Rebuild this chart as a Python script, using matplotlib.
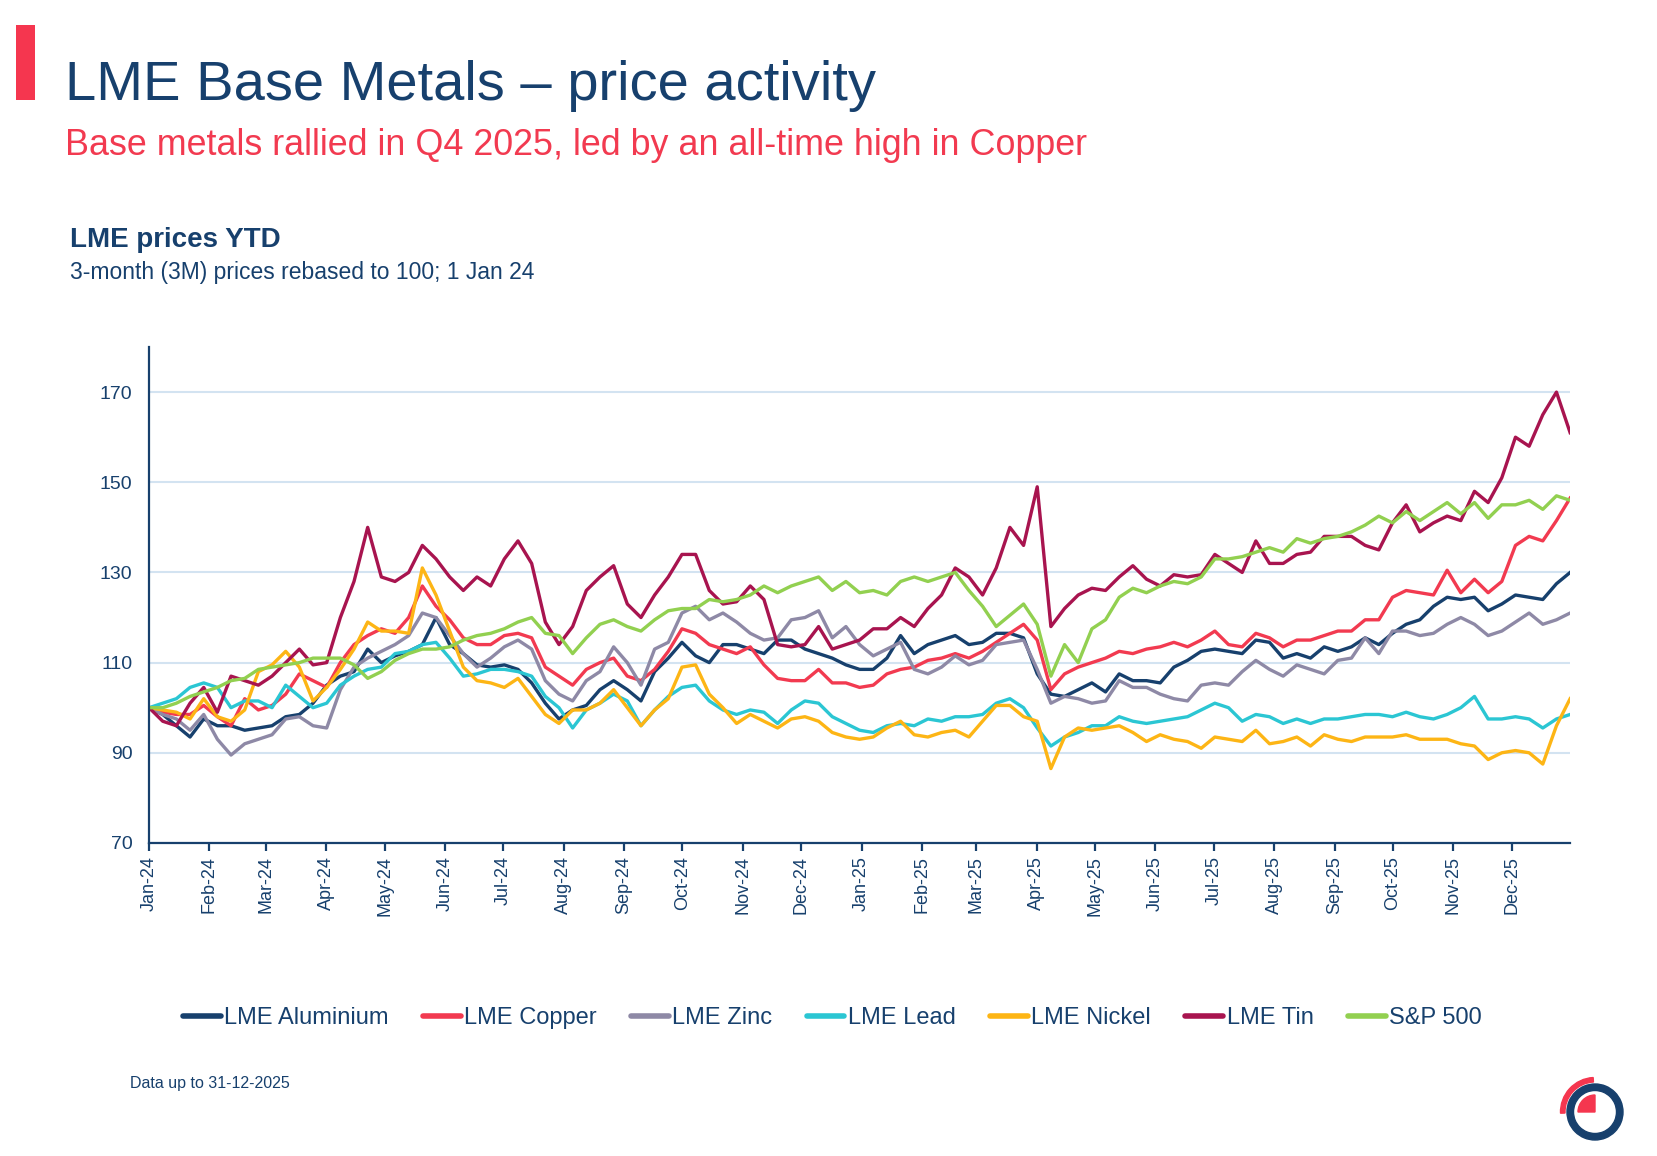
import pandas as pd
import matplotlib
matplotlib.use("Agg")
import matplotlib.pyplot as plt
import matplotlib.dates as mdates
from matplotlib.patches import Rectangle, Wedge

plt.rcParams['font.family'] = ['Liberation Sans', 'DejaVu Sans']

NAVY = '#17406D'
RED = '#F23A50'

# LME 3M prices rebased to 100 on 1 Jan 24, roughly weekly readings
aluminium = [100, 98.5, 96, 93.5, 97.5, 96, 96, 95, 95.5, 96, 98, 98.5, 101, 105, 107, 108, 113, 110,
             111.5, 112.5, 114, 120, 114, 112, 109.5, 109, 109.5, 108.5, 105.5, 101, 97.5, 99.5, 100.5, 104, 106, 104,
             101.5, 108, 111, 114.5, 111.5, 110, 114, 114, 113, 112, 115, 115, 113, 112, 111, 109.5, 108.5,
             108.5, 111, 116, 112, 114, 115, 116, 114, 114.5, 116.5, 116.5, 115.5, 107.5, 103, 102.5, 104, 105.5, 103.5,
             107.5, 106, 106, 105.5, 109, 110.5, 112.5, 113, 112.5, 112, 115, 114.5, 111, 112, 111, 113.5, 112.5,
             113.5, 115.5, 114, 116.5, 118.5, 119.5, 122.5, 124.5, 124, 124.5, 121.5, 123, 125, 124.5, 124, 127.5, 130]
copper = [100, 99, 98.5, 98.5, 100.5, 98, 96, 102, 99.5, 100.5, 103, 107.5, 106, 104.5, 110, 114, 116, 117.5,
          116.5, 120, 127, 122.5, 119.5, 115.5, 114, 114, 116, 116.5, 115.5, 109, 107, 105, 108.5, 110, 111, 107,
          106, 108.5, 112.5, 117.5, 116.5, 114, 113, 112, 113.5, 109.5, 106.5, 106, 106, 108.5, 105.5, 105.5, 104.5,
          105, 107.5, 108.5, 109, 110.5, 111, 112, 111, 112.5, 114.5, 116.5, 118.5, 115, 104, 107.5, 109, 110, 111,
          112.5, 112, 113, 113.5, 114.5, 113.5, 115, 117, 114, 113.5, 116.5, 115.5, 113.5, 115, 115, 116, 117,
          117, 119.5, 119.5, 124.5, 126, 125.5, 125, 130.5, 125.5, 128.5, 125.5, 128, 136, 138, 137, 141.5, 146.5]
zinc = [100, 98.5, 97.5, 95, 98.5, 93, 89.5, 92, 93, 94, 97.5, 98, 96, 95.5, 104, 109, 111, 112.5,
        114, 116, 121, 120, 116, 112, 109, 111, 113.5, 115, 113, 106, 103, 101.5, 106, 108, 113.5, 110,
        105, 113, 114.5, 121, 122.5, 119.5, 121, 119, 116.5, 115, 115.5, 119.5, 120, 121.5, 115.5, 118, 114,
        111.5, 113, 114.5, 108.5, 107.5, 109, 111.5, 109.5, 110.5, 114, 114.5, 115, 108.5, 101, 102.5, 102, 101, 101.5,
        106, 104.5, 104.5, 103, 102, 101.5, 105, 105.5, 105, 108, 110.5, 108.5, 107, 109.5, 108.5, 107.5, 110.5,
        111, 115.5, 112, 117, 117, 116, 116.5, 118.5, 120, 118.5, 116, 117, 119, 121, 118.5, 119.5, 121]
lead = [100, 101, 102, 104.5, 105.5, 104.5, 100, 101.5, 101.5, 100, 105, 102.5, 100, 101, 105, 107, 108.5, 109,
        112, 112.5, 114, 114.5, 111, 107, 107.5, 108.5, 108.5, 108, 107, 102.5, 100, 95.5, 99.5, 101, 103, 101.5,
        96, 99.5, 102.5, 104.5, 105, 101.5, 99.5, 98.5, 99.5, 99, 96.5, 99.5, 101.5, 101, 98, 96.5, 95,
        94.5, 96, 96.5, 96, 97.5, 97, 98, 98, 98.5, 101, 102, 100, 95.5, 91.5, 93.5, 94.5, 96, 96,
        98, 97, 96.5, 97, 97.5, 98, 99.5, 101, 100, 97, 98.5, 98, 96.5, 97.5, 96.5, 97.5, 97.5,
        98, 98.5, 98.5, 98, 99, 98, 97.5, 98.5, 100, 102.5, 97.5, 97.5, 98, 97.5, 95.5, 97.5, 98.5]
nickel = [100, 99.5, 99, 97.5, 102, 98, 97, 99.5, 108, 109.5, 112.5, 109, 101.5, 104.5, 108.5, 113, 119, 117,
          117, 116.5, 131, 125, 117, 109, 106, 105.5, 104.5, 106.5, 102.5, 98.5, 96.5, 99.5, 99.5, 101, 104, 100,
          96, 99.5, 102, 109, 109.5, 103, 100, 96.5, 98.5, 97, 95.5, 97.5, 98, 97, 94.5, 93.5, 93,
          93.5, 95.5, 97, 94, 93.5, 94.5, 95, 93.5, 97, 100.5, 100.5, 98, 97, 86.5, 93.5, 95.5, 95, 95.5,
          96, 94.5, 92.5, 94, 93, 92.5, 91, 93.5, 93, 92.5, 95, 92, 92.5, 93.5, 91.5, 94, 93,
          92.5, 93.5, 93.5, 93.5, 94, 93, 93, 93, 92, 91.5, 88.5, 90, 90.5, 90, 87.5, 96, 102]
tin = [100, 97, 96, 101, 104.5, 99, 107, 106, 105, 107, 110, 113, 109.5, 110, 120, 128, 140, 129,
       128, 130, 136, 133, 129, 126, 129, 127, 133, 137, 132, 119, 114, 118, 126, 129, 131.5, 123,
       120, 125, 129, 134, 134, 126, 123, 123.5, 127, 124, 114, 113.5, 114, 118, 113, 114, 115,
       117.5, 117.5, 120, 118, 122, 125, 131, 129, 125, 131, 140, 136, 149, 118, 122, 125, 126.5, 126,
       129, 131.5, 128.5, 127, 129.5, 129, 129.5, 134, 132, 130, 137, 132, 132, 134, 134.5, 138, 138,
       138, 136, 135, 141, 145, 139, 141, 142.5, 141.5, 148, 145.5, 151, 160, 158, 165, 170, 161]
sp500 = [100, 100, 101, 102.5, 103.5, 104.5, 106, 106.5, 108.5, 109, 109.5, 110, 111, 111, 111, 109.5, 106.5, 108,
         110.5, 112, 113, 113, 113.5, 115, 116, 116.5, 117.5, 119, 120, 116.5, 116, 112, 115.5, 118.5, 119.5, 118,
         117, 119.5, 121.5, 122, 122, 124, 123.5, 124, 125, 127, 125.5, 127, 128, 129, 126, 128, 125.5,
         126, 125, 128, 129, 128, 129, 130, 126, 122.5, 118, 120.5, 123, 118.5, 107, 114, 110, 117.5, 119.5,
         124.5, 126.5, 125.5, 127, 128, 127.5, 129, 133, 133, 133.5, 134.5, 135.5, 134.5, 137.5, 136.5, 137.5, 138,
         139, 140.5, 142.5, 141, 143.5, 141.5, 143.5, 145.5, 143, 145.5, 142, 145, 145, 146, 144, 147, 146]

series_names = ['LME Aluminium', 'LME Copper', 'LME Zinc', 'LME Lead', 'LME Nickel', 'LME Tin', 'S&P 500']
series_colors = [NAVY, RED, '#8E89A6', '#2BC6D3', '#FDB515', '#A8144F', '#92D050']
y_ticks = [70, 90, 110, 130, 150, 170]

dates = pd.date_range('2024-01-01', '2025-12-31', periods=len(tin))
all_series = [aluminium, copper, zinc, lead, nickel, tin, sp500]

fig = plt.figure(figsize=(16.58, 11.56), dpi=100)
ax = fig.add_axes([0.0899, 0.2708, 0.947 - 0.0899, 0.6998 - 0.2708])

for vals, name, col in zip(all_series, series_names, series_colors):
    ax.plot(dates, vals, color=col, lw=2.4, label=name, solid_joinstyle='round')

ax.set_ylim(70, 180)
ax.set_yticks(y_ticks)
ax.set_xlim(pd.Timestamp('2024-01-01'), pd.Timestamp('2025-12-31'))
ax.xaxis.set_major_locator(mdates.MonthLocator())
ax.xaxis.set_major_formatter(mdates.DateFormatter('%b-%y'))
ax.grid(axis='y', color='#D3E3F1', lw=1.5)
ax.set_axisbelow(True)
for s in ['top', 'right']:
    ax.spines[s].set_visible(False)
for s in ['left', 'bottom']:
    ax.spines[s].set_color(NAVY)
    ax.spines[s].set_linewidth(1.6)
ax.tick_params(axis='x', colors=NAVY, labelsize=13, rotation=90, length=6, width=1.6, direction='out')
ax.tick_params(axis='y', colors=NAVY, labelsize=14, length=0, pad=12)

# header
fig.add_artist(Rectangle((0.00965, 0.9135), 0.01146, 0.0649, transform=fig.transFigure,
                         color='#F5364F', lw=0))
fig.text(0.0395, 0.9135, 'LME Base Metals \u2013 price activity', fontsize=40.4, color=NAVY, va='baseline')
fig.text(0.0395, 0.8656, 'Base metals rallied in Q4 2025, led by an all-time high in Copper',
         fontsize=25.8, color=RED, va='baseline')
fig.text(0.0421, 0.786, 'LME prices YTD', fontsize=20, fontweight='bold', color=NAVY, va='baseline')
fig.text(0.0421, 0.759, '3-month (3M) prices rebased to 100; 1 Jan 24', fontsize=16.5, color=NAVY, va='baseline')

leg = fig.legend(loc='center', bbox_to_anchor=(0.502, 0.1194), ncol=7, frameon=False,
                 fontsize=17, handlelength=1.6, handletextpad=0.15, columnspacing=1.45)
for t in leg.get_texts():
    t.set_color(NAVY)
for h in leg.get_lines():
    h.set_linewidth(4)
    h.set_solid_capstyle('round')

fig.text(0.0784, 0.0623, 'Data up to 31-12-2025', fontsize=11.5, color=NAVY, va='center')

# logo
c = (15.95, 0.44)
tr = fig.dpi_scale_trans
fig.add_artist(Wedge(c, 0.28, 0, 360, width=0.065, color=NAVY, transform=tr))
fig.add_artist(Wedge(c, 0.345, 93, 182, width=0.045, color='#F5364F', transform=tr))
fig.add_artist(Wedge(c, 0.17, 90, 180, color='#F5364F', transform=tr))

fig.savefig('out.png', dpi=100)
